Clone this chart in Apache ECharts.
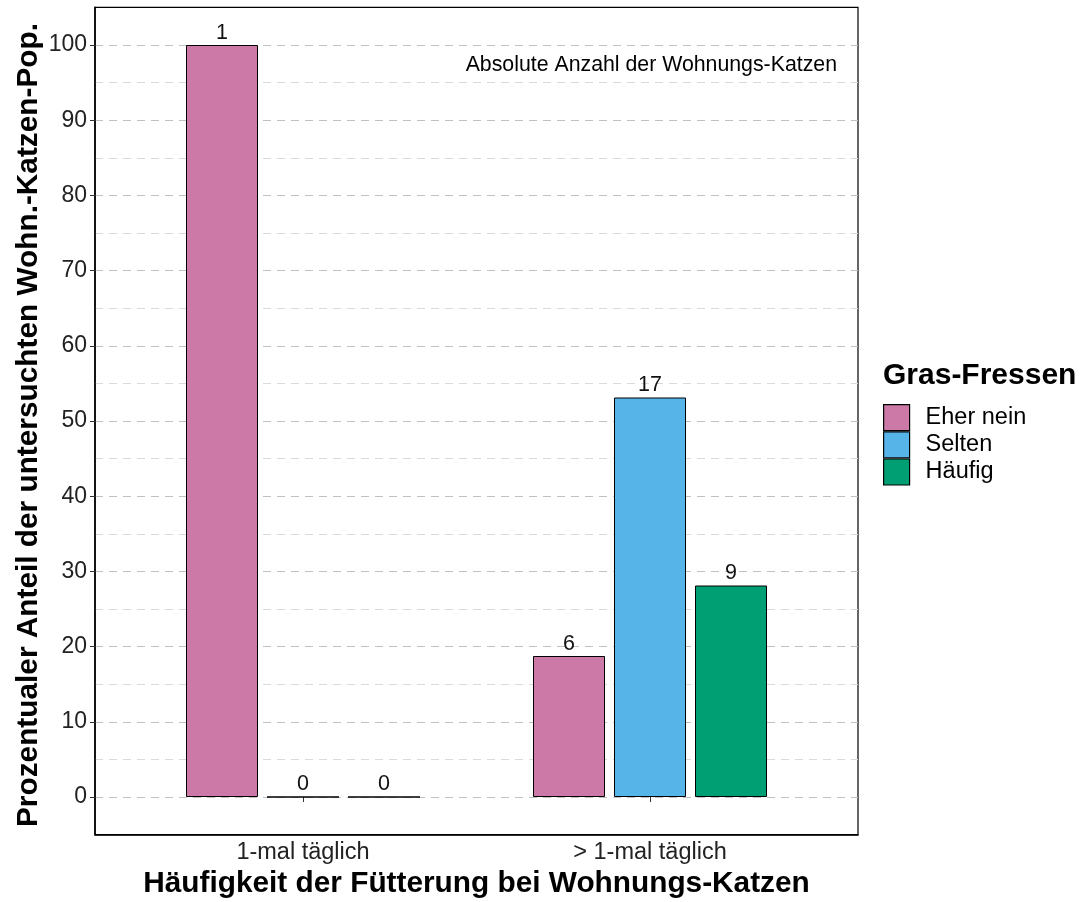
<!DOCTYPE html>
<html>
<head>
<meta charset="utf-8">
<script src="https://cdn.jsdelivr.net/npm/echarts@6/dist/echarts.min.js"></script>
<style>html,body{margin:0;padding:0;background:#fff}#c{width:1084px;height:902px}</style>
</head>
<body>
<div id="c"></div>
<script>
const categories = ['1-mal täglich', '> 1-mal täglich'];
const seriesNames = ['Eher nein', 'Selten', 'Häufig'];
const pctEherNein = [100, 18.75];
const pctSelten = [0, 53.125];
const pctHaeufig = [0, 28.125];
const countEherNein = [1, 6];
const countSelten = [0, 17];
const countHaeufig = [0, 9];
const yTicks = [0, 10, 20, 30, 40, 50, 60, 70, 80, 90, 100];
const colors = ['#CC79A7', '#56B4E9', '#009E73'];

const FONT = "'Liberation Sans', Arial, Helvetica, sans-serif";
const G = {top: 7.4, height: 827.2};

const chart = echarts.init(document.getElementById('c'), null, {renderer: 'canvas'});

function mkSeries(name, data, counts, color) {
  return {
    name: name, type: 'bar', xAxisIndex: 1, yAxisIndex: 2,
    data: data, barWidth: 72, barGap: '12.5%',
    itemStyle: {color: color, borderColor: '#000', borderWidth: 1},
    label: {
      show: true, position: 'top', distance: 1,
      fontFamily: FONT, fontSize: 21.5, color: '#111',
      formatter: p => String(counts[p.dataIndex])
    },
    emphasis: {disabled: true}
  };
}

chart.setOption({
  animation: false,
  backgroundColor: '#fff',
  textStyle: {fontFamily: FONT},
  title: [
    {text: 'Gras-Fressen', left: 883, top: 361, padding: 0,
     textStyle: {fontFamily: FONT, fontSize: 30, fontWeight: 'bold', color: '#000'}},
    {text: 'Absolute Anzahl der Wohnungs-Katzen', right: 247, top: 55, padding: 0,
     textStyle: {fontFamily: FONT, fontSize: 21.3, fontWeight: 'normal', color: '#000'}}
  ],
  legend: {
    orient: 'vertical', left: 883, top: 404, padding: 0, itemGap: 0,
    itemWidth: 26, itemHeight: 26, icon: 'rect',
    data: seriesNames,
    itemStyle: {borderColor: '#000', borderWidth: 1.2},
    textStyle: {fontFamily: FONT, fontSize: 23.5, color: '#000', padding: [0, 0, 0, 11]}
  },
  grid: [
    {left: 95, width: 763, top: G.top, height: G.height, show: true, outerBoundsMode: 'none',
     containLabel: false, borderColor: '#000', borderWidth: 1.2, backgroundColor: 'transparent'},
    {left: 129.5, width: 694, top: G.top, height: G.height, outerBoundsMode: 'none', containLabel: false}
  ],
  xAxis: [
    {type: 'value', gridIndex: 0, min: 0, max: 1,
     axisLine: {show: true, onZero: false, lineStyle: {color: '#000', width: 1.6}},
     axisTick: {show: false}, axisLabel: {show: false}, splitLine: {show: false}},
    {type: 'category', gridIndex: 1, data: categories, boundaryGap: true,
     axisLine: {show: false},
     axisTick: {show: true, alignWithLabel: true, length: 5, lineStyle: {color: '#333', width: 1}},
     axisLabel: {fontFamily: FONT, fontSize: 23.5, color: '#222', margin: 6},
     name: 'Häufigkeit der Fütterung bei Wohnungs-Katzen', nameLocation: 'middle', nameGap: 34,
     nameMoveOverlap: false,
     nameTextStyle: {fontFamily: FONT, fontSize: 29.8, fontWeight: 'bold', color: '#000'}}
  ],
  yAxis: [
    {type: 'value', gridIndex: 0, min: -5, max: 105, interval: 5, position: 'left',
     axisLine: {show: false}, axisTick: {show: false}, axisLabel: {show: false},
     splitLine: {show: true, showMinLine: false, showMaxLine: false,
                 lineStyle: {color: ['#c0c0c0', '#dadada'], type: [8, 6], width: 1}}},
    {type: 'value', gridIndex: 0, min: -5, max: 105, interval: 5, position: 'left', offset: 0,
     axisLine: {show: true, onZero: false, lineStyle: {color: '#000', width: 1.6}},
     axisTick: {show: true, length: 5, customValues: yTicks, lineStyle: {color: '#333', width: 1}},
     axisLabel: {fontFamily: FONT, fontSize: 23, color: '#222', margin: 8, customValues: yTicks},
     splitLine: {show: false},
     name: 'Prozentualer Anteil der untersuchten Wohn.-Katzen-Pop.', nameLocation: 'middle',
     nameRotate: 90, nameGap: 51, nameMoveOverlap: false,
     nameTextStyle: {fontFamily: FONT, fontSize: 29.8, fontWeight: 'bold', color: '#000',
                     padding: [0, 8, 0, 0]}},
    {type: 'value', gridIndex: 1, min: -5, max: 105, show: false}
  ],
  series: [
    mkSeries(seriesNames[0], pctEherNein, countEherNein, colors[0]),
    mkSeries(seriesNames[1], pctSelten, countSelten, colors[1]),
    mkSeries(seriesNames[2], pctHaeufig, countHaeufig, colors[2])
  ]
});
</script>
</body>
</html>
